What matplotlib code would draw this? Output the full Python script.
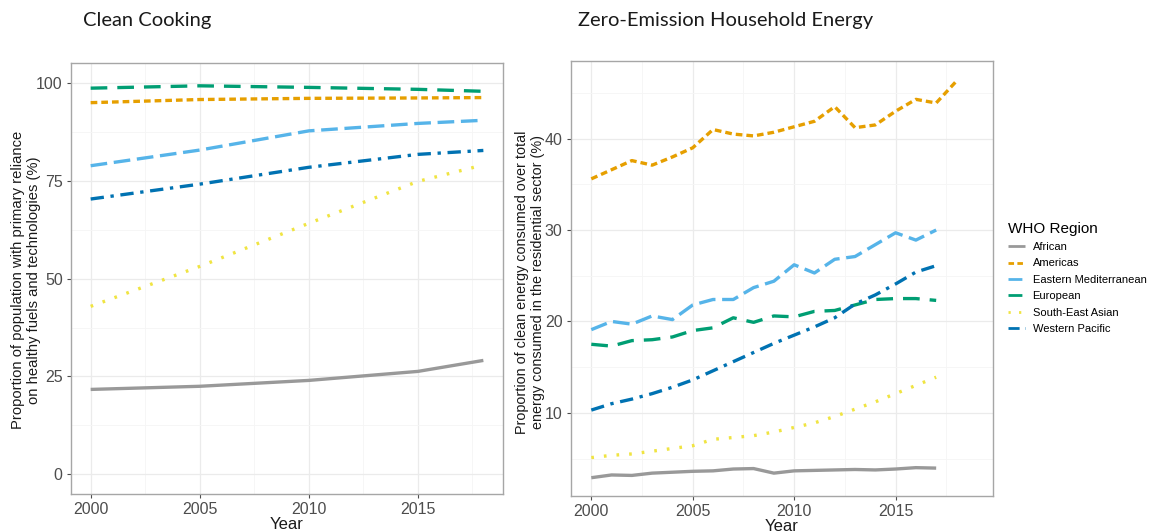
import numpy as np
import matplotlib
matplotlib.use("Agg")
import matplotlib.pyplot as plt
from matplotlib.ticker import MultipleLocator

regions = ["African", "Americas", "Eastern Mediterranean", "European",
           "South-East Asian", "Western Pacific"]
colors = ["#999999", "#E69F00", "#56B4E9", "#009E73", "#F0E442", "#0072B2"]
dashes = [None, (2, 1.2), (5, 2), (5, 3), (0.8, 3), (4, 2, 1, 2)]

# clean cooking (%), panel 1
cook_years = [2000, 2005, 2010, 2015, 2018]
cook_african = [21.7, 22.5, 24.0, 26.3, 29.1]
cook_americas = [94.9, 95.7, 96.0, 96.1, 96.2]
cook_eastmed = [78.8, 82.8, 87.7, 89.6, 90.4]
cook_european = [98.6, 99.2, 98.8, 98.3, 97.8]
cook_seasia = [42.9, 53.1, 64.1, 74.8, 79.0]
cook_wpac = [70.3, 74.1, 78.4, 81.7, 82.7]

# zero-emission household energy (%), panel 2
energy_years = list(range(2000, 2018))
energy_african = [2.9, 3.2, 3.15, 3.4, 3.5, 3.6, 3.65, 3.85, 3.9, 3.4,
                  3.65, 3.7, 3.75, 3.8, 3.75, 3.85, 4.0, 3.95]
americas_years = list(range(2000, 2019))
energy_americas = [35.6, 36.6, 37.6, 37.1, 38.0, 39.0, 41.0, 40.5, 40.3, 40.7,
                   41.3, 41.9, 43.5, 41.2, 41.5, 43.0, 44.3, 43.9, 46.3]
energy_eastmed = [19.1, 20.0, 19.7, 20.6, 20.2, 21.8, 22.4, 22.4, 23.7, 24.4,
                  26.2, 25.3, 26.8, 27.1, 28.4, 29.7, 28.9, 30.0]
energy_european = [17.5, 17.3, 17.9, 18.0, 18.3, 19.0, 19.3, 20.4, 19.9, 20.6,
                   20.5, 21.1, 21.2, 21.8, 22.4, 22.5, 22.5, 22.3]
energy_seasia = [5.1, 5.35, 5.5, 5.8, 6.1, 6.4, 7.1, 7.3, 7.5, 7.9,
                 8.4, 8.9, 9.6, 10.4, 11.2, 12.1, 13.0, 13.9]
energy_wpac = [10.3, 11.0, 11.5, 12.1, 12.8, 13.6, 14.6, 15.6, 16.6, 17.6,
               18.5, 19.4, 20.4, 21.9, 22.9, 24.1, 25.4, 26.1]

cook = [cook_african, cook_americas, cook_eastmed, cook_european, cook_seasia, cook_wpac]
energy = [energy_african, energy_americas, energy_eastmed, energy_european,
          energy_seasia, energy_wpac]

plt.rcParams['font.family'] = ['Liberation Sans', 'DejaVu Sans']

W, H = 1151, 532
fig = plt.figure(figsize=(W / 100, H / 100), dpi=100)
ax1 = fig.add_axes([0.0617, 0.0714, 0.3753, 0.810])
ax2 = fig.add_axes([0.4961, 0.0677, 0.3666, 0.8177])


def style_axes(ax):
    ax.set_facecolor("white")
    for s in ax.spines.values():
        s.set_color("#a6a6a6")
        s.set_linewidth(1.0)
    ax.grid(which="major", color="#ebebeb", lw=0.9, zorder=0)
    ax.grid(which="minor", color="#f5f5f5", lw=0.6, zorder=0)
    ax.tick_params(which="major", length=3, color="#4d4d4d", labelcolor="#4d4d4d",
                   labelsize=11.5, pad=3)
    ax.tick_params(which="minor", length=0)
    ax.set_axisbelow(True)
    ax.set_xlabel("Year", fontsize=12, color="#1a1a1a", labelpad=0)


def draw(ax, xs, ys, i):
    ln, = ax.plot(xs, ys, color=colors[i], lw=2.4, label=regions[i],
                  solid_capstyle="butt", dash_capstyle="butt", zorder=3)
    if dashes[i] is not None:
        ln.set_dashes(dashes[i])
    return ln


# panel 1
for i in range(len(regions)):
    draw(ax1, cook_years, cook[i], i)
style_axes(ax1)
ax1.set_xlim(1999.1, 2018.9)
ax1.set_ylim(-5, 105)
ax1.xaxis.set_major_locator(MultipleLocator(5))
ax1.xaxis.set_minor_locator(MultipleLocator(2.5))
ax1.yaxis.set_major_locator(MultipleLocator(25))
ax1.yaxis.set_minor_locator(MultipleLocator(12.5))

# panel 2
handles = []
for i in range(len(regions)):
    xs = americas_years if i == 1 else energy_years
    handles.append(draw(ax2, xs, energy[i], i))
style_axes(ax2)
ax2.set_xlim(1999.0, 2019.8)
ax2.set_ylim(0.9, 48.5)
ax2.set_xticks([2000, 2005, 2010, 2015])
ax2.xaxis.set_minor_locator(MultipleLocator(2.5))
ax2.yaxis.set_major_locator(MultipleLocator(10))
ax2.yaxis.set_minor_locator(MultipleLocator(5))

# y titles, placed by hand
fig.text(26 / W, 1 - 280 / H,
         "Proportion of population with primary reliance\non healthy fuels and technologies (%)",
         rotation=90, ha="center", va="center", multialignment="center",
         fontsize=10.6, color="#1a1a1a", linespacing=1.2)
fig.text(530 / W, 1 - 282 / H,
         "Proportion of clean energy consumed over total\nenergy consumed in the residential sector (%)",
         rotation=90, ha="center", va="center", multialignment="center",
         fontsize=10.4, color="#1a1a1a", linespacing=1.15)

fig.text(0.072, 0.952, "Clean Cooking", fontsize=14.5, family=["Lato", "DejaVu Sans"],
         color="#1a1a1a", va="baseline")
fig.text(0.502, 0.952, "Zero-Emission Household Energy", fontsize=14.5,
         family=["Lato", "DejaVu Sans"], color="#1a1a1a", va="baseline")

leg = fig.legend(handles=handles, labels=regions, loc="upper left",
                 bbox_to_anchor=(0.872, 0.592), frameon=False, fontsize=8,
                 title="WHO Region", title_fontsize=11, handlelength=1.5,
                 handletextpad=0.7, labelspacing=0.58, borderaxespad=0)
leg._legend_box.align = "left"
for ln in leg.get_lines():
    ln.set_linewidth(2)

fig.savefig("out.png", dpi=100)
